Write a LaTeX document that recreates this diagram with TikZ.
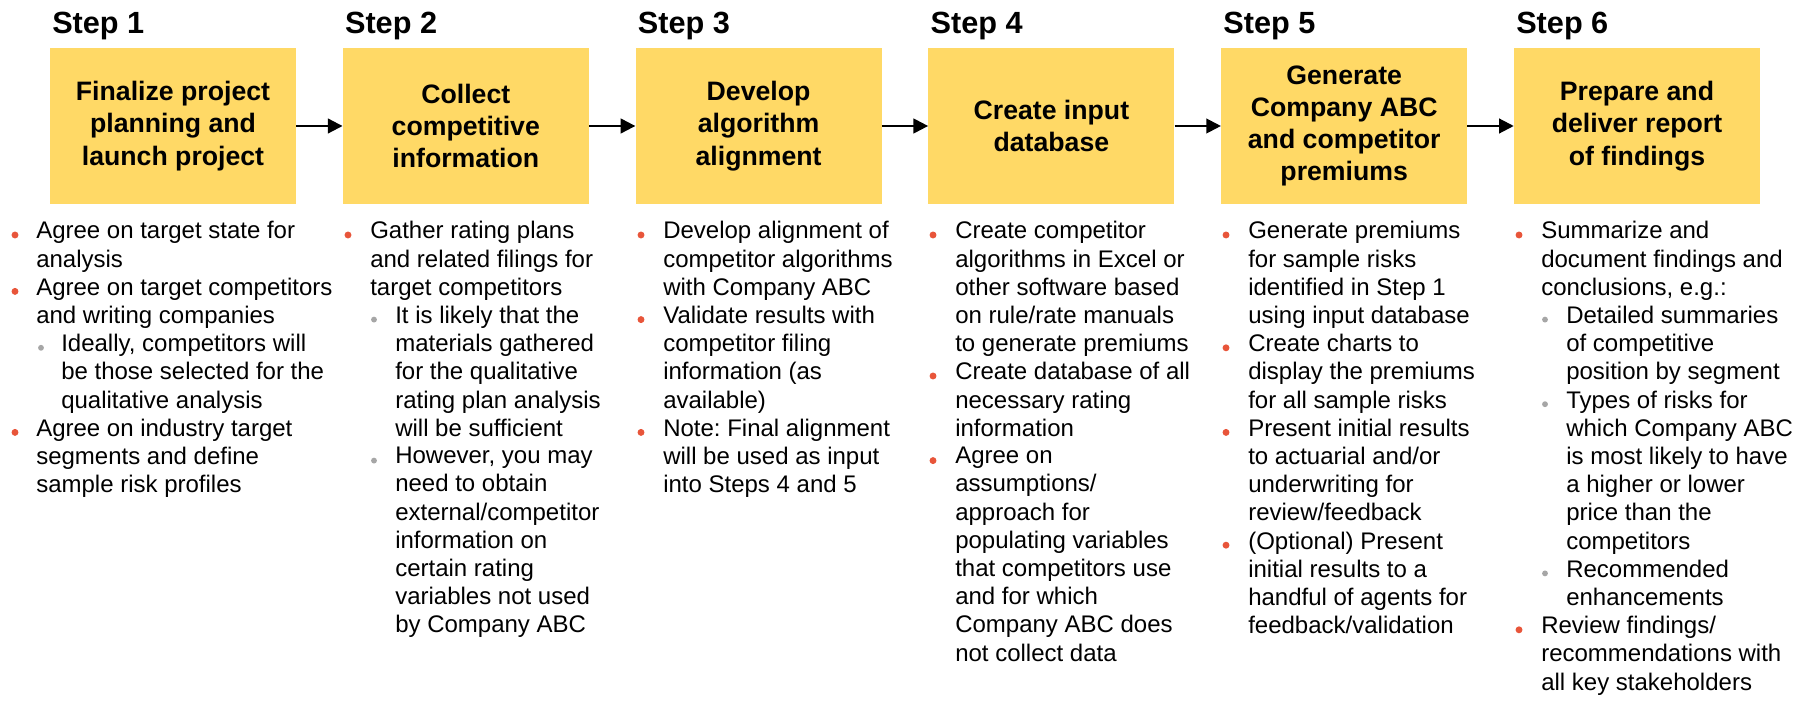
\documentclass[tikz,border=0pt]{standalone}
\usepackage{fontspec}
\setmainfont{Liberation Sans}
\frenchspacing
\usetikzlibrary{arrows.meta}
\definecolor{boxyellow}{HTML}{FFD966}
\definecolor{bulred}{HTML}{E8553A}
\definecolor{bulgray}{HTML}{A6A6A6}

\begin{document}
\begin{tikzpicture}[
    x=0.75pt, y=-0.75pt,
    stepbox/.style={fill=boxyellow, inner sep=0pt, align=center,
                    minimum width=184.5pt, minimum height=117pt,
                    font=\fontsize{20}{24.2}\selectfont\bfseries},
    steplbl/.style={anchor=base west, inner sep=0pt,
                    font=\fontsize{23}{27}\selectfont\bfseries},
    txt/.style={anchor=north west, yshift=14.8pt, inner sep=0pt, align=left,
                font=\fontsize{18}{21.15}\selectfont,
                execute at begin node=\strut},
    bul/.style={circle, fill=bulred, inner sep=0pt, minimum size=5.2pt},
    subbul/.style={circle, fill=bulgray, inner sep=0pt, minimum size=4.4pt},
    arr/.style={-{Triangle[length=11pt,width=11pt]}, line width=1.6pt}
  ]
    \useasboundingbox (0,0) rectangle (1806,705);

    \node[steplbl] (lplan)     at (52,34)     {Step 1};
    \node[steplbl] (lcollect)  at (344.8,34)  {Step 2};
    \node[steplbl] (ldevelop)  at (637.6,34)  {Step 3};
    \node[steplbl] (linput)    at (930.4,34)  {Step 4};
    \node[steplbl] (lgenerate) at (1223.2,34) {Step 5};
    \node[steplbl] (lreport)   at (1516,34)   {Step 6};

    \node[stepbox] (plan)     at (173,126)    {Finalize project\\planning and\\launch project};
    \node[stepbox] (collect)  at (465.8,126)  {Collect\\competitive\\information};
    \node[stepbox] (develop)  at (758.6,126)  {Develop\\algorithm\\alignment};
    \node[stepbox] (input)    at (1051.4,126) {Create input\\database};
    \node[stepbox] (generate) at (1344.2,126) {Generate\\Company ABC\\and competitor\\premiums};
    \node[stepbox] (report)   at (1637,126)   {Prepare and\\deliver report\\of findings};

    \draw[arr] (plan)     -- (collect);
    \draw[arr] (collect)  -- (develop);
    \draw[arr] (develop)  -- (input);
    \draw[arr] (input)    -- (generate);
    \draw[arr] (generate) -- (report);

    % step 1
    \node[bul] (plan-b1) at (15,235) {};
    \node[txt] (plan-t1) at (36,241) {Agree on target state for\\analysis};
    \node[bul] (plan-b2) at (15,291.4) {};
    \node[txt] (plan-t2) at (36,297.4) {Agree on target competitors\\and writing companies};
    \node[subbul] (plan-b3) at (41,347.8) {};
    \node[txt] (plan-t3) at (61,353.8) {Ideally, competitors will\\be those selected for the\\qualitative analysis};
    \node[bul] (plan-b4) at (15,432.4) {};
    \node[txt] (plan-t4) at (36,438.4) {Agree on industry target\\segments and define\\sample risk profiles};

    % step 2
    \node[bul] (collect-b1) at (348,235) {};
    \node[txt] (collect-t1) at (370,241) {Gather rating plans\\and related filings for\\target competitors};
    \node[subbul] (collect-b2) at (374,319.6) {};
    \node[txt] (collect-t2) at (395,325.6) {It is likely that the\\materials gathered\\for the qualitative\\rating plan analysis\\will be sufficient};
    \node[subbul] (collect-b3) at (374,460.6) {};
    \node[txt] (collect-t3) at (395,466.6) {However, you may\\need to obtain\\external/competitor\\information on\\certain rating\\variables not used\\by Company ABC};

    % step 3
    \node[bul] (develop-b1) at (641,235) {};
    \node[txt] (develop-t1) at (663,241) {Develop alignment of\\competitor algorithms\\with Company ABC};
    \node[bul] (develop-b2) at (641,319.6) {};
    \node[txt] (develop-t2) at (663,325.6) {Validate results with\\competitor filing\\information (as\\available)};
    \node[bul] (develop-b3) at (641,432.4) {};
    \node[txt] (develop-t3) at (663,438.4) {Note: Final alignment\\will be used as input\\into Steps 4 and 5};

    % step 4
    \node[bul] (input-b1) at (933,235) {};
    \node[txt] (input-t1) at (955,241) {Create competitor\\algorithms in Excel or\\other software based\\on rule/rate manuals\\to generate premiums};
    \node[bul] (input-b2) at (933,376) {};
    \node[txt] (input-t2) at (955,382) {Create database of all\\necessary rating\\information};
    \node[bul] (input-b3) at (933,460.6) {};
    \node[txt] (input-t3) at (955,466.6) {Agree on\\assumptions/\\approach for\\populating variables\\that competitors use\\and for which\\Company ABC does\\not collect data};

    % step 5
    \node[bul] (generate-b1) at (1226,235) {};
    \node[txt] (generate-t1) at (1248,241) {Generate premiums\\for sample risks\\identified in Step 1\\using input database};
    \node[bul] (generate-b2) at (1226,347.8) {};
    \node[txt] (generate-t2) at (1248,353.8) {Create charts to\\display the premiums\\for all sample risks};
    \node[bul] (generate-b3) at (1226,432.4) {};
    \node[txt] (generate-t3) at (1248,438.4) {Present initial results\\to actuarial and/or\\underwriting for\\review/feedback};
    \node[bul] (generate-b4) at (1226,545.2) {};
    \node[txt] (generate-t4) at (1248,551.2) {(Optional) Present\\initial results to a\\handful of agents for\\feedback/validation};

    % step 6
    \node[bul] (report-b1) at (1519,235) {};
    \node[txt] (report-t1) at (1541,241) {Summarize and\\document findings and\\conclusions, e.g.:};
    \node[subbul] (report-b2) at (1545,319.6) {};
    \node[txt] (report-t2) at (1566,325.6) {Detailed summaries\\of competitive\\position by segment};
    \node[subbul] (report-b3) at (1545,404.2) {};
    \node[txt] (report-t3) at (1566,410.2) {Types of risks for\\which Company ABC\\is most likely to have\\a higher or lower\\price than the\\competitors};
    \node[subbul] (report-b4) at (1545,573.4) {};
    \node[txt] (report-t4) at (1566,579.4) {Recommended\\enhancements};
    \node[bul] (report-b5) at (1519,629.8) {};
    \node[txt] (report-t5) at (1541,635.8) {Review findings/\\recommendations with\\all key stakeholders};
  \end{tikzpicture}
\end{document}
